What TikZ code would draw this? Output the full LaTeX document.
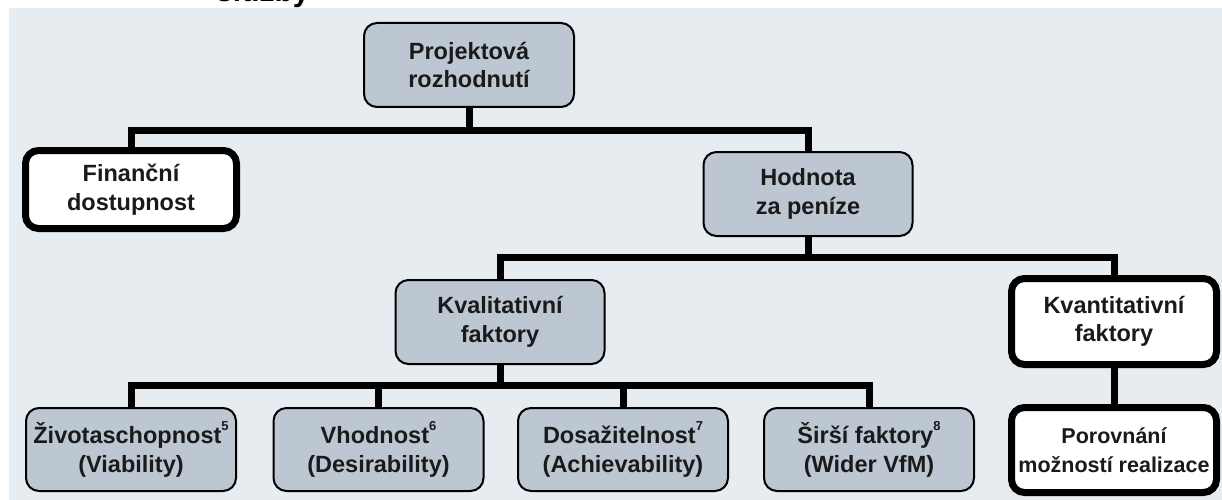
\documentclass[tikz,border=0pt]{standalone}
\usepackage{fontspec}
\setmainfont{Liberation Sans}
\definecolor{bgc}{HTML}{E7ECF0}
\definecolor{boxc}{HTML}{BDC7D2}
\definecolor{txt}{HTML}{1A1A1A}
\newcommand{\sumark}[1]{\raisebox{0.55em}{\fontsize{13}{13}\selectfont #1}}
\begin{document}
\begin{tikzpicture}[x=1pt,y=-1pt,
  base/.style={rectangle, rounded corners=13pt, align=center, text=txt,
    font=\bfseries\fontsize{23.5}{28.5}\selectfont, inner sep=0pt},
  graybox/.style={base, draw=black, line width=2pt, fill=boxc},
  whitebox/.style={base, draw=black, line width=7pt, fill=white},
  conn/.style={draw=black, line width=7pt, line join=miter}]
\useasboundingbox (0,0) rectangle (1222,500);
\fill[white] (0,0) rectangle (1222,500);
\fill[bgc] (9,8) rectangle (1222,500);
\node[anchor=base west, font=\bfseries\fontsize{30}{34}\selectfont, inner sep=0pt] (title) at (216,1.5) {služby};
% bus coordinates
\coordinate (b1) at (469,130);
\coordinate (b2) at (808,257);
\coordinate (b3) at (500,385);
% nodes
\node[graybox, minimum width=210pt, minimum height=84pt] (proj) at (469,65) {Projektová\\rozhodnutí};
\node[whitebox, minimum width=211pt, minimum height=78pt] (fin) at (131,189.5) {Finanční\\dostupnost};
\node[graybox, minimum width=209pt, minimum height=84pt] (hod) at (808,194) {Hodnota\\za peníze};
\node[graybox, minimum width=209pt, minimum height=84pt] (kval) at (500,322) {Kvalitativní\\faktory};
\node[whitebox, minimum width=205pt, minimum height=86pt] (kvant) at (1114,321.5) {Kvantitativní\\faktory};
\node[whitebox, minimum width=205pt, minimum height=85pt, font=\bfseries\fontsize{21.5}{28.5}\selectfont] (por) at (1114,450) {Porovnání\\možností realizace};
\node[graybox, minimum width=210pt, minimum height=83pt] (ziv) at (131,449.5) {Životaschopnost\sumark{5}\\(Viability)};
\node[graybox, minimum width=210pt, minimum height=83pt] (vhod) at (378.5,449.5) {Vhodnost\sumark{6}\\(Desirability)};
\node[graybox, minimum width=210pt, minimum height=83pt] (dos) at (623,449.5) {Dosažitelnost\sumark{7}\\(Achievability)};
\node[graybox, minimum width=210pt, minimum height=83pt] (sir) at (869,449.5) {Širší faktory\sumark{8}\\(Wider VfM)};
% connectors
\draw[conn] (proj.south) -- (proj.south |- b1);
\draw[conn] (fin.north) -- (fin.north |- b1) -- (hod.north |- b1) -- (hod.north);
\draw[conn] (hod.south) -- (hod.south |- b2);
\draw[conn] (kval.north) -- (kval.north |- b2) -- (kvant.north |- b2) -- (kvant.north);
\draw[conn] (kvant.south) -- (por.north);
\draw[conn] (kval.south) -- (kval.south |- b3);
\draw[conn] (ziv.north) -- (ziv.north |- b3) -- (sir.north |- b3) -- (sir.north);
\draw[conn] (vhod.north) -- (vhod.north |- b3);
\draw[conn] (dos.north) -- (dos.north |- b3);
\end{tikzpicture}
\end{document}
